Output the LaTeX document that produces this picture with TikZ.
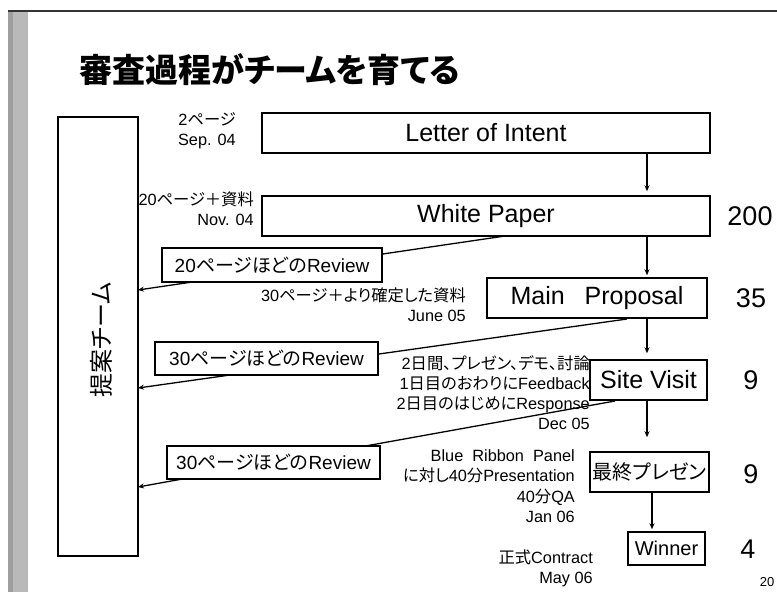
\documentclass[tikz,border=0pt]{standalone}
\usepackage{fontspec}
\setmainfont{Liberation Sans}
\newfontfamily\jp[RawFeature=+palt]{Noto Sans CJK JP}
\usetikzlibrary{arrows.meta}
\newcommand\J[1]{{\jp #1}}
\newcommand\fsz[2]{\fontsize{#1}{#2}\selectfont}
\begin{document}
\begin{tikzpicture}[x=1pt,y=-1pt,
  stage/.style={draw=black, line width=1.5pt, fill=white, inner sep=0pt, minimum height=40pt, font=\fsz{25}{30}},
  rev/.style={draw=black, line width=1.5pt, fill=white, inner sep=0pt, font=\fsz{19}{22}},
  note/.style={align=right, inner sep=0pt, anchor=east, font=\fsz{16.3}{20}},
  num/.style={inner sep=0pt, font=\fsz{27}{30}},
  flow/.style={-{Stealth[length=6pt,width=5pt]}, line width=1.2pt},
  fb/.style={-{Stealth[length=6pt,width=5pt]}, line width=1.3pt}]
\useasboundingbox (0,0) rectangle (777,592);
\fill[white] (0,0) rectangle (777,592);
% slide frame
\fill[gray!55] (8,11) rectangle (28,592);
\fill[gray!75] (8,11) rectangle (13,592);
\draw[line width=1.6pt, gray!40!black] (8,11) -- (777,11);
% title
\node[anchor=west, inner sep=0pt, font=\jp\bfseries\fsz{33}{36}] (title) at (79,70) {審査過程がチームを育てる};
% team box
\node[draw=black, line width=1.5pt, fill=white, minimum width=80pt, minimum height=439pt, inner sep=0pt] (T) at (98,336.5) {};
\node[rotate=90, inner sep=0pt, font=\jp\fsz{24}{26}] (Tl) at (101,340) {提案チーム};
% annotations
\node[note] (n1) at (236,131) {2\J{ページ}\\Sep. 04};
\node[note] (n2) at (254,209) {20\J{ページ＋資料}\\Nov. 04};
\node[note] (n3) at (466,305) {30\J{ページ＋より確定した資料}\\June 05};
\node[note] (n4) at (590,393) {2\J{日間、プレゼン、デモ、討論}\\1\J{日目のおわりに}Feedback\\2\J{日目のはじめに}Response\\Dec 05};
\node[note, font=\fsz{16.3}{20.5}] (n5) at (575,486) {Blue\ \ Ribbon\ \ Panel\\\J{に対し}40\J{分}Presentation\\40\J{分}QA\\Jan 06};
\node[note] (n6) at (593,568) {\J{正式}Contract\\May 06};
% stages
\node[stage, minimum width=448pt] (L) at (486,133) {Letter of Intent};
\node[stage, minimum width=448pt] (W) at (486,216) {White Paper};
\node[stage, minimum width=220pt] (M) at (597,298) {Main\hspace{13pt} Proposal};
\node[stage, minimum width=117pt] (S) at (648.5,380) {Site Visit};
\node[stage, minimum width=119pt, font=\jp\fsz{20}{24}] (F) at (649.5,472) {最終プレゼン};
\node[stage, minimum width=77pt, minimum height=33pt, font=\fsz{20}{24}] (Wn) at (666.5,548.5) {Winner};
% numbers
\node[num] (c1) at (750,216) {200};
\node[num] (c2) at (751,298) {35};
\node[num] (c3) at (751,380) {9};
\node[num] (c4) at (751,474) {9};
\node[num] (c5) at (748,549) {4};
\node[inner sep=0pt, font=\fsz{13}{15}] (pg) at (767,582) {20};
% flow arrows
\coordinate (ax) at (647,0);
\coordinate (bx) at (652,0);
\draw[flow, shorten >=4pt] (L.south -| ax) -- (W.north -| ax);
\draw[flow, shorten >=2pt] (W.south -| ax) -- (M.north -| ax);
\draw[flow, shorten >=6pt] (M.south -| ax) -- (S.north -| ax);
\draw[flow, shorten >=14pt] (S.south -| ax) -- (F.north -| ax);
\draw[flow, shorten >=2pt] (F.south -| bx) -- (Wn.north -| bx);
% review feedback lines
\coordinate (r1a) at (505,236);
\coordinate (r1b) at (138,290);
\coordinate (r2a) at (627,319);
\coordinate (r2b) at (138,388);
\coordinate (r3a) at (615,401);
\coordinate (r3b) at (138,487);
\draw[fb] (r1a) -- (r1b);
\draw[fb] (r2a) -- (r2b);
\draw[fb] (r3a) -- (r3b);
% review boxes
\node[rev, minimum width=220pt, minimum height=34pt] (R1) at (272,265) {20\J{ページほどの}Review};
\node[rev, minimum width=223pt, minimum height=33pt] (R2) at (266.5,358.5) {30\J{ページほどの}Review};
\node[rev, minimum width=213pt, minimum height=33pt] (R3) at (273.5,462.5) {30\J{ページほどの}Review};
\end{tikzpicture}
\end{document}
